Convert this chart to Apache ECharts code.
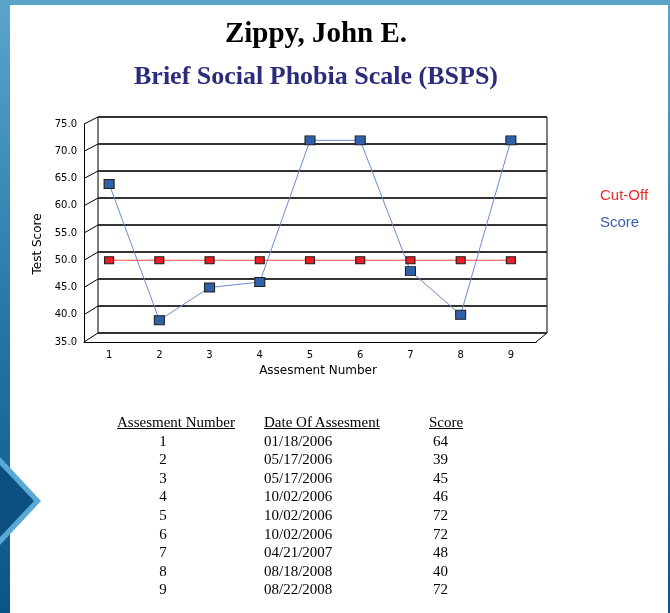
<!DOCTYPE html>
<html>
<head>
<meta charset="utf-8">
<script src="https://cdn.jsdelivr.net/npm/echarts@6/dist/echarts.min.js"></script>
<style>
  html, body { margin: 0; padding: 0; background: #fff; }
  #wrap { position: relative; width: 670px; height: 613px; overflow: hidden; }
  #chart { position: absolute; left: 0; top: 0; width: 670px; height: 613px; }
  .col { position: absolute; top: 413px; font-family: 'Liberation Serif', serif; font-size: 15px; line-height: 18.6px; color: #000; white-space: nowrap; }
  .col .hd { text-decoration: underline; }
</style>
</head>
<body>
<div id="wrap">
  <div id="chart"></div>
  <div id="c1" class="col" style="left:117px; width:92px;"></div>
  <div id="c2" class="col" style="left:264px;"></div>
  <div id="c3" class="col" style="left:429px;"></div>
</div>
<script>
  // data
  const categories = ['1', '2', '3', '4', '5', '6', '7', '8', '9'];
  const cutOff = [50, 50, 50, 50, 50, 50, 50, 50, 50];
  const scores = [64, 39, 45, 46, 72, 72, 48, 40, 72];
  const dates = ['01/18/2006', '05/17/2006', '05/17/2006', '10/02/2006', '10/02/2006',
                 '10/02/2006', '04/21/2007', '08/18/2008', '08/22/2008'];
  const yTicks = [35, 40, 45, 50, 55, 60, 65, 70, 75];

  // front plane (data) and back wall of the 3d box
  const front = { left: 84, top: 124, width: 452, height: 218 };
  const back = { left: 98, top: 117, width: 449, height: 216 };

  const axisFont = { fontFamily: 'DejaVu Sans', fontSize: 10, color: '#000' };
  const nameFont = { fontFamily: 'DejaVu Sans', fontSize: 12, color: '#000' };

  let myChart = echarts.init(document.getElementById('chart'));
  myChart.setOption({
    animation: false,
    title: [{
      text: 'Zippy, John E.',
      left: 316, top: 20, padding: 0, textAlign: 'center',
      textStyle: { fontFamily: 'Liberation Serif', fontWeight: 'bold', fontSize: 29, color: '#000' }
    }, {
      text: 'Brief Social Phobia Scale (BSPS)',
      left: 316, top: 64, padding: 0, textAlign: 'center',
      textStyle: { fontFamily: 'Liberation Serif', fontWeight: 'bold', fontSize: 26, color: '#2c2c7c' }
    }],
    legend: {
      orient: 'vertical', left: 589, top: 183, itemGap: 12,
      itemWidth: 0, itemHeight: 0,
      textStyle: { fontFamily: 'Liberation Sans', fontSize: 15 },
      data: [
        { name: 'Cut-Off', textStyle: { color: '#ec2a2a' } },
        { name: 'Score', textStyle: { color: '#3a5eae' } }
      ]
    },
    grid: [
      Object.assign({ show: true, borderColor: '#000', borderWidth: 1, backgroundColor: 'transparent' }, back),
      Object.assign({}, front)
    ],
    xAxis: [{
      gridIndex: 0, type: 'category', data: categories, show: false
    }, {
      gridIndex: 1, type: 'category', data: categories, boundaryGap: true,
      axisLine: { lineStyle: { color: '#000', width: 1 } },
      axisTick: { show: false },
      axisLabel: Object.assign({ margin: 8 }, axisFont),
      name: 'Assesment Number', nameLocation: 'middle', nameGap: 23,
      nameTextStyle: Object.assign({ padding: [0, 0, 0, 16] }, nameFont)
    }],
    yAxis: [{
      gridIndex: 0, type: 'value', min: yTicks[0], max: yTicks[yTicks.length - 1], interval: 5,
      axisLine: { show: false }, axisTick: { show: false }, axisLabel: { show: false },
      splitLine: { lineStyle: { color: '#333', width: 2 } }
    }, {
      gridIndex: 1, type: 'value', min: yTicks[0], max: yTicks[yTicks.length - 1], interval: 5,
      axisLine: { show: true, lineStyle: { color: '#000', width: 1 } },
      axisTick: { show: false },
      splitLine: { show: false },
      axisLabel: Object.assign({ margin: 7, padding: [0, 0, 4, 0], formatter: v => v.toFixed(1) }, axisFont),
      name: 'Test Score', nameLocation: 'middle', nameRotate: 90, nameGap: 38,
      nameTextStyle: Object.assign({ padding: [0, 22, 0, 0] }, nameFont)
    }],
    series: [{
      name: 'Score', type: 'line', xAxisIndex: 1, yAxisIndex: 1,
      data: scores,
      symbol: 'rect', symbolSize: [10, 9],
      lineStyle: { color: '#6a8bd0', width: 1 },
      itemStyle: { color: '#3060aa', borderColor: '#1c1c1c', borderWidth: 1 }
    }, {
      name: 'Cut-Off', type: 'line', xAxisIndex: 1, yAxisIndex: 1,
      data: cutOff,
      symbol: 'rect', symbolSize: [9, 7],
      lineStyle: { color: '#ff4545', width: 1 },
      itemStyle: { color: '#ee1c24', borderColor: '#1c1c1c', borderWidth: 1 }
    }]
  });

  // 3d box side lines, taken from the two y scales
  let graphics = [];
  const frame = new echarts.graphic.LinearGradient(0, 0, 0, 1, [
    { offset: 0, color: '#5ba5cd' }, { offset: 0.55, color: '#2474a4' }, { offset: 1, color: '#0a5587' }
  ]);
  graphics.push({ type: 'rect', z: -10, shape: { x: 0, y: 0, width: 670, height: 5 }, style: { fill: '#5aa4cc' } });
  graphics.push({ type: 'rect', z: -10, shape: { x: 0, y: 0, width: 10, height: 613 }, style: { fill: frame } });
  graphics.push({ type: 'rect', z: -10, shape: { x: 668, y: 0, width: 2, height: 613 }, style: { fill: frame } });
  graphics.push({ type: 'polygon', z: -9, shape: { points: [[0, 457], [41, 501], [0, 545]] }, style: { fill: '#5aa8d4' } });
  graphics.push({ type: 'polygon', z: -8, shape: { points: [[0, 465], [34, 501], [0, 537]] }, style: { fill: '#0b5081' } });

  yTicks.forEach(v => {
    const yf = myChart.convertToPixel({ yAxisIndex: 1 }, v);
    const yb = myChart.convertToPixel({ yAxisIndex: 0 }, v);
    graphics.push({
      type: 'line', z: 1,
      shape: { x1: front.left, y1: yf, x2: back.left, y2: yb },
      style: { stroke: '#000', lineWidth: 1 }
    });
  });
  const yf0 = myChart.convertToPixel({ yAxisIndex: 1 }, yTicks[0]);
  const yb0 = myChart.convertToPixel({ yAxisIndex: 0 }, yTicks[0]);
  graphics.push({
    type: 'line', z: 1,
    shape: { x1: front.left + front.width, y1: yf0, x2: back.left + back.width, y2: yb0 },
    style: { stroke: '#000', lineWidth: 1 }
  });
  myChart.setOption({ graphic: graphics });

  // table under the chart
  let c1 = '<div class="hd">Assesment Number</div>';
  let c2 = '<div class="hd">Date Of Assesment</div>';
  let c3 = '<div class="hd">Score</div>';
  categories.forEach((item, index) => {
    c1 += '<div style="text-align:center">' + item + '</div>';
    c2 += '<div>' + dates[index] + '</div>';
    c3 += '<div style="padding-left:4px">' + scores[index] + '</div>';
  });
  document.getElementById('c1').innerHTML = c1;
  document.getElementById('c2').innerHTML = c2;
  document.getElementById('c3').innerHTML = c3;
</script>
</body>
</html>
